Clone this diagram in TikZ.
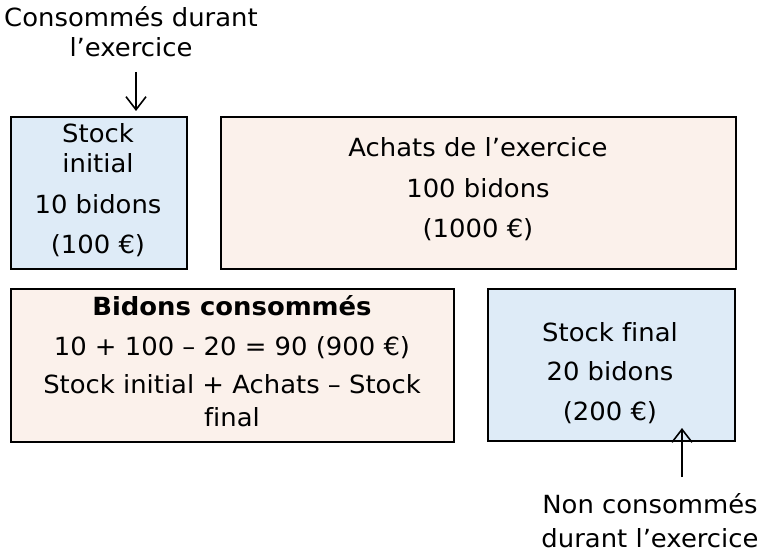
\documentclass[tikz,border=0pt]{standalone}
\usepackage{fontspec}
\setmainfont[Ligatures=NoCommon, FakeStretch=1.035]{DejaVu Sans}
\usetikzlibrary{arrows.meta}
\definecolor{boxblue}{HTML}{DEEBF7}
\definecolor{boxpeach}{HTML}{FBF1EB}
\tikzset{
  box/.style={draw=black, line width=1.8pt, inner sep=0pt, anchor=north west},
  txt/.style={inner sep=0pt, anchor=base, font=\fontsize{25}{30}\selectfont},
  arr/.style={line width=1.6pt, -{Straight Barb[length=13pt,width=20pt,line width=1.6pt]}},
}
\begin{document}
\begin{tikzpicture}[x=1pt,y=-1pt]
\useasboundingbox (0,0) rectangle (767,553);
% boxes
\node[box, fill=boxblue, minimum width=176pt, minimum height=152pt] (si) at (10,116) {};
\node[box, fill=boxpeach, minimum width=515pt, minimum height=152pt] (ach) at (220,116) {};
\node[box, fill=boxpeach, minimum width=443pt, minimum height=153pt] (bc) at (10,288) {};
\node[box, fill=boxblue, minimum width=247pt, minimum height=152pt] (sf) at (487,288) {};
% texts
\node[txt] (t1) at (131,27) {Consommés durant};
\node[txt] (t2) at (131,57) {l’exercice};
\node[txt] (si1) at (98,143) {Stock};
\node[txt] (si2) at (98,173) {initial};
\node[txt] (si3) at (98,213) {10 bidons};
\node[txt] (si4) at (98,253) {(100 €)};
\node[txt] (a1) at (478,157) {Achats de l’exercice};
\node[txt] (a2) at (478,197) {100 bidons};
\node[txt] (a3) at (478,237) {(1000 €)};
\node[txt, font=\fontsize{25}{30}\selectfont\bfseries] (b1) at (232,315) {Bidons consommés};
\node[txt] (b2) at (232,355) {10 + 100 – 20 = 90 (900 €)};
\node[txt] (b3) at (232,393) {Stock initial + Achats – Stock};
\node[txt] (b4) at (232,426) {final};
\node[txt] (f1) at (610,341) {Stock final};
\node[txt] (f2) at (610,380) {20 bidons};
\node[txt] (f3) at (610,420) {(200 €)};
\node[txt] (n1) at (650,513) {Non consommés};
\node[txt] (n2) at (650,547) {durant l’exercice};
% arrows
\coordinate (p1) at (136,72);
\coordinate (q1) at (136,111);
\coordinate (p2) at (682,477);
\coordinate (q2) at (682,428);
\draw[arr] (p1) -- (q1);
\draw[arr] (p2) -- (q2);
\end{tikzpicture}
\end{document}
